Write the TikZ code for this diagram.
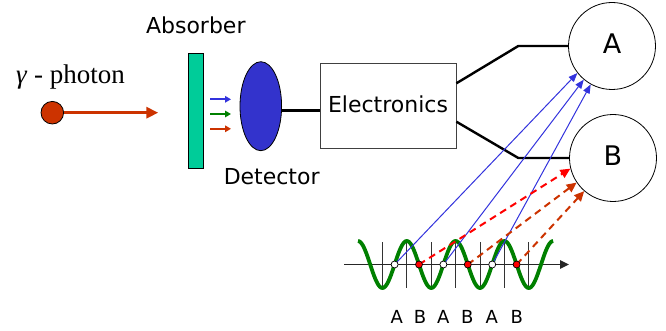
\documentclass[tikz,border=0pt]{standalone}
\usepackage{fontspec}
\setmainfont{DejaVu Sans}
\newfontfamily\serifface{Liberation Serif}
\usetikzlibrary{arrows.meta,shapes.geometric}
\definecolor{absorbcol}{HTML}{00CC99}
\definecolor{detcol}{HTML}{3333CC}
\definecolor{photcol}{HTML}{CC3300}
\definecolor{bluecol}{HTML}{3333DD}
\definecolor{greencol}{HTML}{008000}
\definecolor{redcol}{HTML}{FF0000}
\tikzset{
  lbl/.style={font=\fontsize{22}{26}\selectfont, anchor=base, inner sep=0pt},
  smalllbl/.style={font=\fontsize{18}{22}\selectfont, anchor=base, inner sep=0pt},
  counter/.style={circle, draw, line width=0.8pt, minimum size=87pt, inner sep=0pt,
    font=\fontsize{27}{30}\selectfont, text depth=5pt},
  wire/.style={line width=2.4pt, black},
  smallarrow/.style={line width=2pt, -{Triangle[length=6pt,width=6.5pt]}},
  bluearrow/.style={line width=1pt, bluecol, -{Triangle[length=9pt,width=7pt]}},
  redarrow/.style={line width=2pt, dash pattern=on 7pt off 5pt, -{Triangle[length=10pt,width=9pt]}},
  tick/.style={line width=1pt, black!80},
  dotA/.style={circle, draw, fill=white, line width=0.7pt, minimum size=7pt, inner sep=0pt},
  dotB/.style={circle, draw, fill=redcol, line width=0.7pt, minimum size=7pt, inner sep=0pt},
}
\begin{document}
\begin{tikzpicture}[x=1pt,y=-1pt]
\useasboundingbox (0,0) rectangle (666,331);

% photon
\node[font=\serifface\fontsize{27}{30}\selectfont, anchor=base west, inner sep=0pt] (phlbl) at (16,84) {\textit{γ} - photon};
\node[circle, draw, line width=0.8pt, fill=photcol, minimum size=22.6pt, inner sep=0pt] (ph) at (52.3,112.7) {};
\coordinate (phtip) at (158.3,112.7);
\draw[photcol, line width=3pt, -{Triangle[length=12pt,width=11pt]}] (ph.east) -- (phtip);

% absorber
\node[lbl] (abslbl) at (195.8,33.3) {Absorber};
\node[rectangle, draw, line width=0.8pt, fill=absorbcol, minimum width=15pt, minimum height=115pt, inner sep=0pt] (abs) at (195.8,111.3) {};

% small arrows
\coordinate (s1) at (210,99.3); \coordinate (e1) at (231,99.3);
\coordinate (s2) at (210,114);  \coordinate (e2) at (231,114);
\coordinate (s3) at (210,128.8); \coordinate (e3) at (231,128.8);
\draw[smallarrow, bluecol] (s1) -- (e1);
\draw[smallarrow, greencol] (s2) -- (e2);
\draw[smallarrow, photcol] (s3) -- (e3);

% detector
\node[ellipse, draw, line width=0.8pt, fill=detcol, minimum width=41.6pt, minimum height=89pt, inner sep=0pt] (det) at (260.8,106.2) {};
\node[lbl] (detlbl) at (271.7,185) {Detector};

% electronics
\node[rectangle, draw=black!75, line width=0.8pt, minimum width=136pt, minimum height=85pt,
  font=\fontsize{22}{26}\selectfont, text height=16pt, text depth=2.4pt] (elec) at (388,105.7) {Electronics};
\draw[wire] ([yshift=-4.5pt]det.east) -- ([yshift=-4.5pt]det.east -| elec.west);

% counters
\node[counter] (A) at (612,46) {A};
\node[counter] (B) at (613,158) {B};
\draw[wire] ([yshift=22.4pt]elec.east) -- (518.3,0 |- A.west) -- (A.west);
\draw[wire] ([yshift=-16pt]elec.east) -- (518.3,0 |- B.west) -- (B.west);

% axis and ticks
\coordinate (ax0) at (344,264.5);
\coordinate (ax1) at (569,264.5);
\foreach \t in {382.4,406.8,431.2,455.6,480,504.4,528.8} {
  \draw[tick] (\t,242) -- (\t,288);
}
\draw[line width=1.4pt, black!85, -{Triangle[length=9pt,width=8.5pt]}] (ax0) -- (ax1);

% wave
\draw[greencol, line width=3.8pt] plot[domain=0:4, samples=161, smooth]
  ({358+48.8*\x}, {264.5-23.5*cos(360*\x)});

% dot positions
\coordinate (a1) at (394.6,264.5);
\coordinate (a2) at (443.4,264.5);
\coordinate (a3) at (492.2,264.5);
\coordinate (b1) at (419,264.5);
\coordinate (b2) at (467.8,264.5);
\coordinate (b3) at (516.6,264.5);

% arrows to counters
\draw[bluearrow] (a1) -- (A.218);
\draw[bluearrow] (a2) -- (A.230);
\draw[bluearrow] (a3) -- (A.241);
\draw[redarrow, redcol] (b1) -- (B.194);
\draw[redarrow, photcol] (b2) -- (B.214);
\draw[redarrow, photcol] (b3) -- (B.229);

% dots
\node[dotA] (da1) at (a1) {};
\node[dotA] (da2) at (a2) {};
\node[dotA] (da3) at (a3) {};
\node[dotB] (db1) at (b1) {};
\node[dotB] (db2) at (b2) {};
\node[dotB] (db3) at (b3) {};

% labels
\node[smalllbl] (l1) at (396.7,323.3) {A};
\node[smalllbl] (l2) at (420,323.3) {B};
\node[smalllbl] (l3) at (443.3,323.3) {A};
\node[smalllbl] (l4) at (467.3,323.3) {B};
\node[smalllbl] (l5) at (491.7,323.3) {A};
\node[smalllbl] (l6) at (516.7,323.3) {B};
\end{tikzpicture}
\end{document}
